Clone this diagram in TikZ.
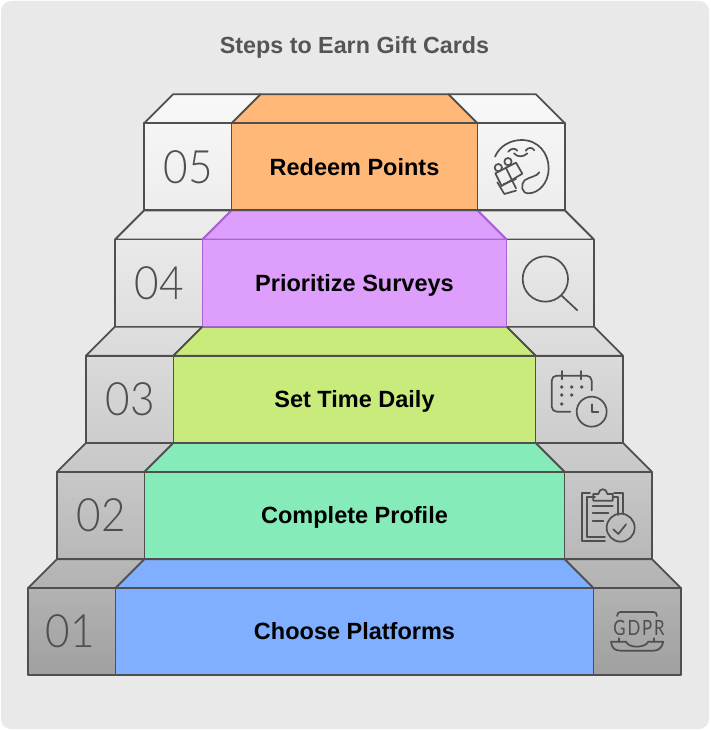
\documentclass[tikz,border=0pt]{standalone}
\usepackage{fontspec}
\setmainfont{Liberation Sans}
\newfontfamily\numfont[FakeStretch=0.92]{Lato Light}
\newfontfamily\gdprfont[FakeStretch=0.8,LetterSpace=9]{Lato}
\definecolor{bgc}{HTML}{E9E9E9}
\definecolor{edge}{HTML}{4F4F4F}
\definecolor{titlec}{HTML}{555555}
\definecolor{oc}{HTML}{FFB877}
\definecolor{pc}{HTML}{DD9EFC}
\definecolor{pe}{HTML}{A963D6}
\definecolor{yc}{HTML}{C8EB7C}
\definecolor{mc}{HTML}{85EBB8}
\definecolor{bc}{HTML}{7FAFFE}
\tikzset{
  face/.style={line width=1.8pt,line join=round},
  steptitle/.style={anchor=base,font=\bfseries\fontsize{23.3}{26}\selectfont,text=titlec},
  steplabel/.style={anchor=base,font=\bfseries\fontsize{23.5}{27}\selectfont,text=black},
  stepnum/.style={font=\numfont\fontsize{46}{50}\selectfont,text=edge},
  iconline/.style={draw=edge,line width=1.7pt,line cap=round,line join=round},
  zoomed/.style={shift={#1},x=0.33333pt,y=-0.33333pt}
}
\newcommand{\shadeat}[2]{%
  \pgfmathsetmacro{\tt}{(#2-95)/580}%
  \pgfmathsetmacro{#1}{(248-48*\tt-40*\tt*\tt)/255}%
}
% #1 left x, #2 top y of front, #3 fill, #4 edge colour of the centre
\newcommand{\stair}[4]{%
  \pgfmathsetmacro{\xc}{#1+87.5}%
  \pgfmathsetmacro{\xr}{709-\xc}%
  \pgfmathsetmacro{\xR}{709-#1}%
  \pgfmathsetmacro{\yt}{#2-29}%
  \pgfmathsetmacro{\yb}{#2+87}%
  \shadeat{\ga}{\yt}\shadeat{\gb}{#2}\shadeat{\gc}{\yb}%
  \definecolor{gA}{gray}{\ga}\definecolor{gB}{gray}{\gb}\definecolor{gC}{gray}{\gc}%
  \draw[face,draw=edge,top color=gA,bottom color=gB] (#1+29,\yt) -- (\xc+29,\yt) -- (\xc,#2) -- (#1,#2) -- cycle;
  \draw[face,draw=edge,top color=gA,bottom color=gB] (\xR-29,\yt) -- (\xr-29,\yt) -- (\xr,#2) -- (\xR,#2) -- cycle;
  \draw[face,draw=edge,top color=gB,bottom color=gC] (#1,#2) rectangle (\xc,\yb);
  \draw[face,draw=edge,top color=gB,bottom color=gC] (\xr,#2) rectangle (\xR,\yb);
  \draw[face,draw=#4,fill=#3] (\xc+29,\yt) -- (\xr-29,\yt) -- (\xr,#2) -- (\xc,#2) -- cycle;
  \draw[face,draw=#4,fill=#3] (\xc,#2) rectangle (\xr,\yb);
}
\begin{document}
\begin{tikzpicture}[x=1pt,y=-1pt]
\useasboundingbox (0,0) rectangle (710,730);
\fill[white] (0,0) rectangle (710,730);
\fill[bgc,rounded corners=10pt] (1,1) rectangle (709,729);
\node[steptitle] (title) at (354.5,54) {Steps to Earn Gift Cards};

\stair{28}{588.1}{bc}{edge}
\stair{57}{471.9}{mc}{edge}
\stair{86}{355.7}{yc}{edge}
\stair{115}{239.5}{pc}{pe}
\stair{144}{123.3}{oc}{edge}

\node[steplabel] (l5) at (354.5,175.5) {Redeem Points};
\node[steplabel] (l4) at (354.5,291.5) {Prioritize Surveys};
\node[steplabel] (l3) at (354.5,407.5) {Set Time Daily};
\node[steplabel] (l2) at (354.5,523.5) {Complete Profile};
\node[steplabel] (l1) at (354.5,639.5) {Choose Platforms};

\node[stepnum] (n5) at (188,167) {05};
\node[stepnum] (n4) at (159.5,283) {04};
\node[stepnum] (n3) at (130,399) {03};
\node[stepnum] (n2) at (101,515) {02};
\node[stepnum] (n1) at (70,631) {01};

% gift icon
\begin{scope}[zoomed={(440,85)}]
  \draw[iconline] (165,215) .. controls (180,180) and (215,165) .. (245,165)
     .. controls (295,165) and (326,205) .. (326,250)
     .. controls (326,295) and (295,325) .. (265,325)
     .. controls (245,325) and (240,300) .. (255,285)
     .. controls (270,275) and (290,275) .. (298,262);
  \draw[iconline] (205,200) .. controls (212,190) and (225,188) .. (232,197);
  \draw[iconline] (257,197) .. controls (265,186) and (277,186) .. (283,196);
  \draw[iconline] (222,205) .. controls (232,217) and (250,217) .. (262,205);
  \draw[iconline] (166,265) -- (228,233) -- (247,266) -- (185,303) -- cycle;
  \draw[iconline] (172,292) -- (193,327) -- (228,317);
  \draw[iconline] (197,247) -- (228,310);
  \draw[iconline] (190,298) -- (228,282);
  \draw[iconline] (204,230) circle (11);
  \draw[iconline] (175,248) circle (11);
\end{scope}
% magnifier icon
\begin{scope}[zoomed={(440,85)}]
  \draw[iconline] (316,582) circle (68);
  \draw[iconline] (365,632) -- (412,676);
\end{scope}
% calendar icon
\begin{scope}[zoomed={(545,365)}]
  \draw[iconline,rounded corners=5pt] (140,76) -- (140,32) -- (20,32) -- (20,140) -- (76,140);
  \draw[iconline] (52,18) -- (52,43);
  \draw[iconline] (107,18) -- (107,43);
  \foreach \dx/\dy in {50/66,80/66,110/66,50/90,80/90,50/117}
    \fill[edge] (\dx,\dy) circle (5.5);
  \draw[iconline] (140,140) circle (45);
  \draw[iconline] (140,118) -- (140,142) -- (160,142);
\end{scope}
% clipboard icon
\begin{scope}[zoomed={(500,340)}]
  \draw[iconline] (270,460) -- (245,460) -- (245,603) -- (315,603);
  \draw[iconline] (342,460) -- (368,460) -- (368,520);
  \draw[iconline] (285,472) -- (260,472) -- (260,592) -- (315,592);
  \draw[iconline] (338,472) -- (355,472) -- (355,525);
  \draw[iconline] (280,482) -- (280,462) -- (295,462) .. controls (297,443) and (320,443) .. (322,462) -- (338,462) -- (338,482) -- cycle;
  \draw[iconline] (278,497) -- (338,497);
  \draw[iconline] (278,520) -- (325,520);
  \draw[iconline] (278,543) -- (310,543);
  \draw[iconline] (362,563) circle (42);
  \draw[iconline] (340,568) -- (355,582) -- (378,553);
\end{scope}
% GDPR icon
\begin{scope}[zoomed={(500,340)}]
  \draw[iconline,rounded corners=3pt] (352,828) -- (352,816) -- (470,816) -- (470,828);
  \node[font=\gdprfont\fontsize{21}{22}\selectfont,text=edge] (gdpr) at (417,863) {GDPR};
  \draw[iconline] (358,895) -- (358,905);
  \draw[iconline] (462,895) -- (462,905);
  \draw[iconline] (333,905) -- (378,905) .. controls (385,925) and (435,925) .. (445,905) -- (490,905)
     .. controls (485,925) and (475,932) .. (460,932) -- (362,932) .. controls (345,932) and (335,925) .. (333,905) -- cycle;
\end{scope}
\end{tikzpicture}
\end{document}
